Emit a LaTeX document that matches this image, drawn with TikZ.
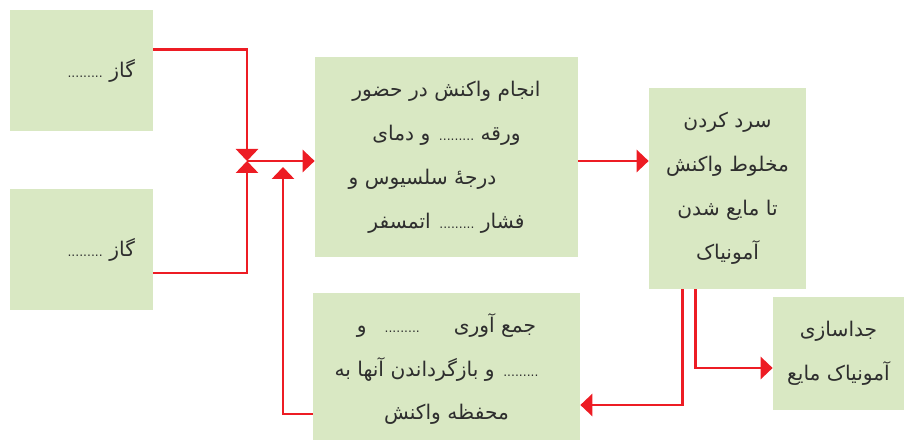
\documentclass[tikz,border=0pt]{standalone}
\usepackage{fontspec}
\usepackage{tikz}
\usetikzlibrary{arrows.meta}
\newfontfamily\farsi[Script=Arabic]{DejaVu Sans}
\TeXXeTstate=1
\definecolor{boxgreen}{HTML}{D9E8C3}
\definecolor{linkred}{HTML}{ED1C24}
\definecolor{inkgray}{HTML}{2E2E2E}
\newcommand{\fatext}[1]{\beginR #1\endR}
\newcommand{\blankdots}{{\fontsize{7}{7}\selectfont .........}}

\begin{document}
\begin{tikzpicture}[
  box/.style={fill=boxgreen, text=inkgray, inner sep=0pt, align=center,
    font=\farsi\fontsize{11.5}{25}\selectfont},
  gasbox/.style={box, align=right, text width=2.14cm, inner xsep=0.36cm,
    minimum height=2.42cm},
  link/.style={draw=linkred, line width=1.7pt, -{Triangle[length=2.4mm, width=4.4mm]}}]
\useasboundingbox (0,0) rectangle (18.34,8.78);
% boxes
\node[gasbox] (gasA) at (1.63,7.37) {\fatext{گاز \blankdots}};
\node[gasbox] (gasB) at (1.63,3.79) {\fatext{گاز \blankdots}};
\node[box, minimum width=5.26cm, minimum height=4cm] (react) at (8.93,5.64)
  {\fatext{انجام واکنش در حضور}\\
   \fatext{ورقه \blankdots{} و دمای}\\
   \fatext{درجهٔ سلسیوس و}\rule{0.96cm}{0pt}\\
   \fatext{فشار \blankdots{} اتمسفر}};
\node[box, minimum width=3.14cm, minimum height=4.02cm] (cool) at (14.55,5.01)
  {\fatext{سرد کردن}\\
   \fatext{مخلوط واکنش}\\
   \fatext{تا مایع شدن}\\
   \fatext{آمونیاک}};
\node[box, minimum width=2.62cm, minimum height=2.26cm] (sep) at (16.77,1.71)
  {\fatext{جداسازی}\\
   \fatext{آمونیاک مایع}};
\node[box, minimum width=5.34cm, minimum height=3.04cm] (collect) at (8.93,1.40)
  {\fatext{جمع آوری\hspace{0.68cm}\blankdots\hspace{0.36cm}و}\\
   \fatext{\blankdots{} و بازگرداندن آنها به}\rule{0.4cm}{0pt}\\
   \fatext{محفظه واکنش}};
% bends
\coordinate (mix) at (4.94,5.56);
\coordinate (back) at (5.66,5.44);
\coordinate (turnA) at (13.64,0.68);
\coordinate (turnB) at (13.90,1.42);
% connectors
\draw[link] ([yshift=0.41cm]gasA.east) -| (mix);
\draw[link] ([yshift=-0.47cm]gasB.east) -| (mix);
\draw[link] (mix) -- (react.west |- mix);
\draw[link] ([yshift=-0.9cm]collect.west) -| (back);
\draw[link] (react.east |- mix) -- (cool.west |- mix);
\draw[link] (cool.south -| turnA) -- (turnA) -- (collect.east |- turnA);
\draw[link] (cool.south -| turnB) -- (turnB) -- (sep.west |- turnB);
\end{tikzpicture}
\end{document}
